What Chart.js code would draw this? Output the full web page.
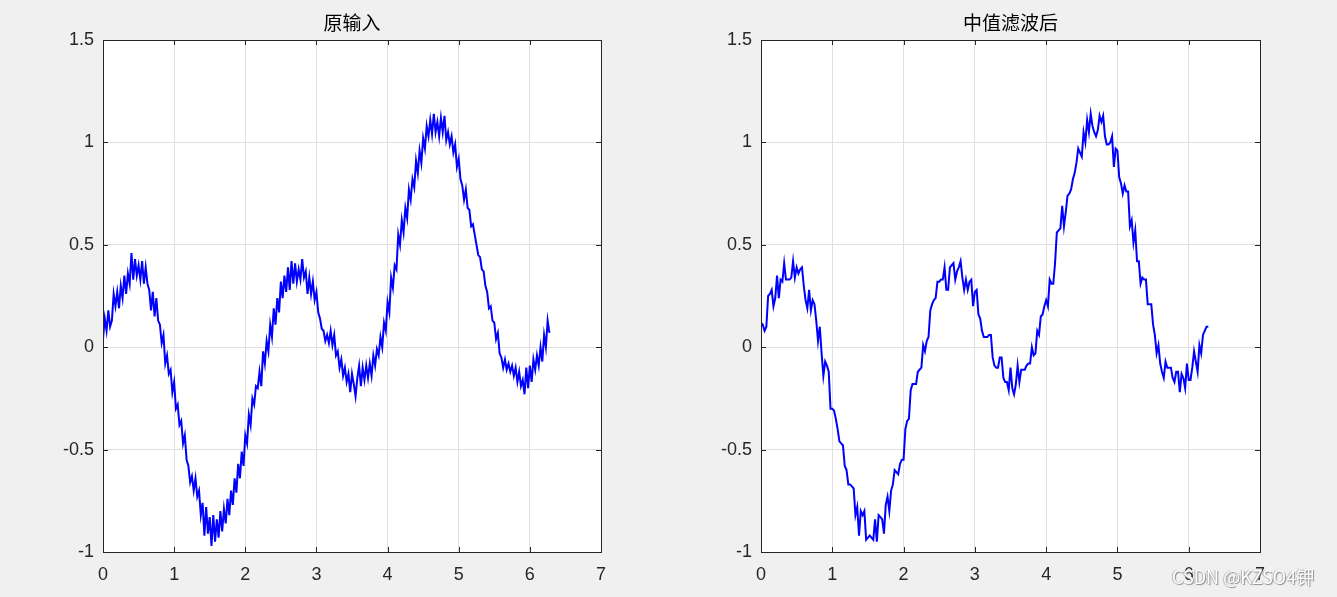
<!DOCTYPE html>
<html>
<head>
<meta charset="utf-8">
<script src="https://cdn.jsdelivr.net/npm/chart.js@4"></script>
<style>
  html, body { margin: 0; padding: 0; background: #f0f0f0; }
  #wrap { position: relative; width: 1337px; height: 597px; overflow: hidden; }
  #wrap canvas { position: absolute; left: 0; top: 0; }
  #mark {
    position: absolute; left: 1172px; top: 563px;
    font: 18px "Noto Sans CJK SC", sans-serif; color: #ffffff;
    text-shadow: 1px 1px 1px #8a8a8a, -1px 0 1px #b0b0b0;
    white-space: nowrap;
  }
</style>
</head>
<body>
<div id="wrap">
  <canvas id="left" width="1337" height="597"></canvas>
  <canvas id="right" width="1337" height="597"></canvas>
  <div id="mark">CSDN @KZSO4钾</div>
</div>
<script>
// sample spacing of the signal (t = 0 : 0.025 : 6.275)
const xStep = 0.025;

const titles = ["原输入", "中值滤波后"];
const xTicks = [0, 1, 2, 3, 4, 5, 6, 7];
const yTicks = [-1, -0.5, 0, 0.5, 1, 1.5];

// noisy input
const noisyInput = [
  0.04, 0.14, 0.08, 0.18, 0.10, 0.13, 0.26, 0.20, 0.27, 0.19, 0.30, 0.24, 0.35, 0.26, 0.36, 0.31, 0.46, 0.33, 0.43, 0.35,
  0.40, 0.33, 0.42, 0.31, 0.39, 0.31, 0.28, 0.18, 0.27, 0.15, 0.24, 0.13, 0.11, 0.02, 0.06, -0.08, -0.04, -0.13, -0.11, -0.22,
  -0.17, -0.30, -0.28, -0.38, -0.36, -0.47, -0.43, -0.55, -0.58, -0.66, -0.63, -0.70, -0.64, -0.73, -0.70, -0.82, -0.76, -0.92, -0.78, -0.91,
  -0.83, -0.97, -0.82, -0.95, -0.84, -0.93, -0.80, -0.90, -0.79, -0.86, -0.74, -0.82, -0.70, -0.77, -0.64, -0.71, -0.57, -0.64, -0.51, -0.58,
  -0.43, -0.47, -0.33, -0.38, -0.25, -0.28, -0.19, -0.20, -0.12, -0.19, -0.02, -0.08, 0.03, -0.02, 0.11, 0.05, 0.19, 0.11, 0.24, 0.17,
  0.32, 0.24, 0.35, 0.27, 0.39, 0.28, 0.42, 0.31, 0.41, 0.32, 0.38, 0.33, 0.43, 0.34, 0.37, 0.26, 0.34, 0.26, 0.32, 0.23,
  0.27, 0.17, 0.14, 0.09, 0.08, 0.03, 0.06, 0.02, 0.08, 0.01, 0.06, -0.04, -0.02, -0.10, -0.06, -0.14, -0.10, -0.17, -0.13, -0.22,
  -0.13, -0.18, -0.24, -0.15, -0.09, -0.19, -0.10, -0.16, -0.09, -0.15, -0.08, -0.14, -0.04, -0.09, -0.01, -0.04, 0.05, 0.00, 0.12, 0.08,
  0.22, 0.17, 0.34, 0.29, 0.40, 0.38, 0.55, 0.50, 0.62, 0.56, 0.68, 0.63, 0.77, 0.72, 0.82, 0.78, 0.91, 0.85, 0.96, 0.90,
  1.02, 0.97, 1.08, 1.03, 1.11, 1.04, 1.14, 1.05, 1.10, 1.03, 1.12, 1.05, 1.13, 1.01, 1.05, 0.99, 1.03, 0.95, 0.99, 0.88,
  0.92, 0.82, 0.79, 0.72, 0.77, 0.68, 0.67, 0.59, 0.60, 0.55, 0.50, 0.45, 0.44, 0.38, 0.37, 0.30, 0.27, 0.19, 0.20, 0.13,
  0.12, 0.04, 0.07, -0.03, -0.05, -0.10, -0.06, -0.11, -0.08, -0.12, -0.09, -0.14, -0.10, -0.17, -0.12, -0.19, -0.16, -0.23, -0.10, -0.20,
  -0.09, -0.17, -0.06, -0.11, -0.04, -0.09, 0.00, -0.07, 0.06, 0.00, 0.13, 0.07
];

// median filtered output
const medianOutput = [
  0.12, 0.11, 0.08, 0.10, 0.25, 0.26, 0.28, 0.20, 0.24, 0.35, 0.24, 0.33, 0.32, 0.41, 0.33, 0.33, 0.33, 0.34, 0.42, 0.34,
  0.39, 0.36, 0.38, 0.39, 0.30, 0.23, 0.19, 0.28, 0.18, 0.23, 0.21, 0.13, 0.03, 0.10, -0.03, -0.14, -0.07, -0.09, -0.12, -0.30,
  -0.30, -0.31, -0.35, -0.40, -0.46, -0.47, -0.48, -0.58, -0.60, -0.67, -0.67, -0.68, -0.69, -0.82, -0.78, -0.92, -0.80, -0.82, -0.80, -0.94,
  -0.93, -0.92, -0.93, -0.94, -0.84, -0.95, -0.82, -0.83, -0.84, -0.91, -0.77, -0.73, -0.80, -0.70, -0.67, -0.60, -0.61, -0.62, -0.57, -0.55,
  -0.55, -0.40, -0.36, -0.35, -0.21, -0.18, -0.18, -0.18, -0.12, -0.11, -0.10, 0.01, -0.02, 0.03, 0.05, 0.18, 0.21, 0.23, 0.24, 0.32,
  0.32, 0.33, 0.33, 0.39, 0.28, 0.28, 0.39, 0.40, 0.41, 0.33, 0.37, 0.39, 0.42, 0.34, 0.28, 0.33, 0.28, 0.32, 0.33, 0.20,
  0.27, 0.28, 0.16, 0.14, 0.08, 0.05, 0.05, 0.05, 0.06, 0.06, -0.05, -0.09, -0.10, -0.10, -0.05, -0.05, -0.15, -0.17, -0.17, -0.21,
  -0.10, -0.20, -0.23, -0.18, -0.09, -0.17, -0.11, -0.11, -0.11, -0.09, -0.08, -0.08, 0.00, -0.04, -0.03, 0.08, 0.06, 0.15, 0.16, 0.20,
  0.23, 0.20, 0.33, 0.31, 0.31, 0.41, 0.56, 0.57, 0.58, 0.69, 0.59, 0.66, 0.74, 0.75, 0.77, 0.82, 0.85, 0.90, 0.97, 0.95,
  0.93, 1.05, 1.00, 1.11, 1.05, 1.14, 1.08, 1.05, 1.03, 1.06, 1.13, 1.10, 1.13, 1.03, 0.99, 0.99, 1.00, 1.03, 0.88, 0.97,
  0.96, 0.83, 0.80, 0.75, 0.79, 0.76, 0.76, 0.59, 0.62, 0.51, 0.57, 0.42, 0.42, 0.31, 0.34, 0.33, 0.33, 0.21, 0.21, 0.21,
  0.11, 0.06, -0.03, 0.01, -0.08, -0.12, -0.15, -0.07, -0.10, -0.10, -0.10, -0.15, -0.17, -0.12, -0.12, -0.22, -0.13, -0.15, -0.20, -0.08,
  -0.16, -0.16, -0.10, -0.02, -0.07, -0.12, 0.01, -0.03, 0.06, 0.08, 0.10, 0.10
];

function toPoints(ys) {
  return ys.map((y, i) => ({ x: i * xStep, y: y }));
}

// white plot box, dark frame with inward ticks, title above
const matlabBox = {
  id: "matlabBox",
  beforeDraw(chart) {
    const a = chart.chartArea;
    const ctx = chart.ctx;
    ctx.save();
    ctx.fillStyle = "#ffffff";
    ctx.fillRect(a.left, a.top, a.right - a.left, a.bottom - a.top);
    ctx.restore();
  },
  afterDraw(chart) {
    const a = chart.chartArea;
    const ctx = chart.ctx;
    const xs = chart.scales.x;
    const ys = chart.scales.y;
    ctx.save();
    ctx.strokeStyle = "#262626";
    ctx.lineWidth = 1;
    ctx.strokeRect(Math.round(a.left) + 0.5, Math.round(a.top) + 0.5,
      Math.round(a.right - a.left), Math.round(a.bottom - a.top));
    ctx.beginPath();
    xTicks.forEach(v => {
      const px = Math.round(xs.getPixelForValue(v)) + 0.5;
      ctx.moveTo(px, a.bottom); ctx.lineTo(px, a.bottom - 5);
      ctx.moveTo(px, a.top); ctx.lineTo(px, a.top + 5);
    });
    yTicks.forEach(v => {
      const py = Math.round(ys.getPixelForValue(v)) + 0.5;
      ctx.moveTo(a.left, py); ctx.lineTo(a.left + 5, py);
      ctx.moveTo(a.right, py); ctx.lineTo(a.right - 5, py);
    });
    ctx.stroke();
    ctx.fillStyle = "#000000";
    ctx.font = '19px "Noto Sans CJK SC", sans-serif';
    ctx.textAlign = "center";
    ctx.textBaseline = "middle";
    ctx.fillText(chart.options.plugins.matlabBox.text, (a.left + a.right) / 2, 23);
    ctx.restore();
  }
};

function makePanel(canvasId, title, values, padLeft, padRight) {
  return new Chart(document.getElementById(canvasId), {
    type: "line",
    data: {
      datasets: [{
        data: toPoints(values),
        borderColor: "#0000ff",
        borderWidth: 2,
        pointRadius: 0,
        tension: 0,
        fill: false
      }]
    },
    options: {
      responsive: false,
      animation: false,
      layout: { padding: { left: padLeft, right: padRight, top: 40, bottom: 0 } },
      plugins: {
        legend: { display: false },
        tooltip: { enabled: false },
        matlabBox: { text: title }
      },
      scales: {
        x: {
          type: "linear",
          min: 0, max: 7,
          afterFit: s => { s.height = 45; },
          afterBuildTicks: s => { s.ticks = xTicks.map(v => ({ value: v })); },
          grid: { color: "#dfdfdf", drawTicks: false },
          border: { display: false },
          ticks: {
            padding: 12,
            color: "#262626",
            font: { family: "Liberation Sans, Arial, sans-serif", size: 18 },
            callback: v => String(v),
            maxRotation: 0
          }
        },
        y: {
          type: "linear",
          min: -1, max: 1.5,
          afterFit: s => { s.width = 60; },
          afterBuildTicks: s => { s.ticks = yTicks.map(v => ({ value: v })); },
          grid: { color: "#dfdfdf", drawTicks: false },
          border: { display: false },
          ticks: {
            padding: 9,
            color: "#262626",
            font: { family: "Liberation Sans, Arial, sans-serif", size: 18 },
            callback: v => String(v)
          }
        }
      }
    },
    plugins: [matlabBox]
  });
}

makePanel("left", titles[0], noisyInput, 43, 1337 - 601);
makePanel("right", titles[1], medianOutput, 761 - 60, 1337 - 1260);
</script>
</body>
</html>
